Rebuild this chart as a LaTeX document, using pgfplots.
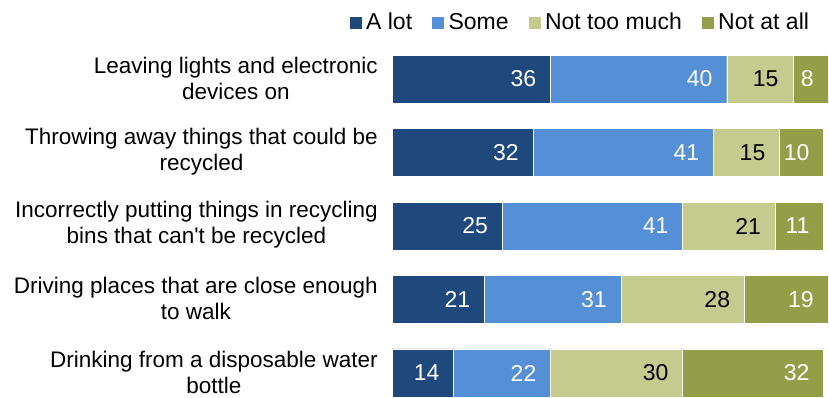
\documentclass[border=0pt]{standalone}
\usepackage{fontspec}
\setmainfont{Liberation Sans}
\usepackage{pgfplots}
\pgfplotsset{compat=1.18}
\definecolor{alot}{HTML}{1F487C}
\definecolor{some}{HTML}{558FD6}
\definecolor{nottoo}{HTML}{C5CA8E}
\definecolor{notatall}{HTML}{949D48}
\begin{document}
\fontsize{22.5pt}{26pt}\selectfont
\begin{tikzpicture}[x=1pt,y=1pt]
\begin{axis}[
  at={(392pt,0pt)}, anchor=south west,
  scale only axis, width=436pt, height=342pt,
  xbar stacked, bar width=48pt,
  xmin=0, xmax=99,
  ymin=-0.327, ymax=4.327, y dir=reverse,
  axis line style={draw=none},
  xtick=\empty,
  ytick={0,1,2,3,4},
  yticklabels={{Leaving lights and electronic\\devices on},
    {Throwing away things that could be\\recycled},
    {Incorrectly putting things in recycling\\bins that can\textquotesingle t be recycled},
    {Driving places that are close enough\\to walk},
    {Drinking from a disposable water\\bottle}},
  major tick length=0pt,
  /pgf/number format/assume math mode=true,
  yticklabel style={align=center, anchor=east, inner sep=0pt, xshift=-14pt, yshift=1pt, font=\fontsize{22.5pt}{26pt}\selectfont},
  visualization depends on=rawx \as \rawx,
  nodes near coords={\pgfmathprintnumber[assume math mode=true]{\pgfplotspointmeta}},
  every node near coord/.append style={anchor=east, xshift={\rawx*2.2pt-14pt}, font=\fontsize{23pt}{24pt}\selectfont, inner sep=0pt},
  legend columns=4,
  legend style={at={(0.9615,1.093)}, anchor=east, draw=none, fill=none, inner sep=0pt,
    font=\fontsize{23pt}{24pt}\selectfont,
    /tikz/every even column/.append style={column sep=17pt}},
  legend image code/.code={\fill[#1] (0pt,-6.5pt) rectangle (13pt,6.5pt); \path (15pt,0pt);},
]
\addplot[fill=alot, draw=white, line width=0.4pt, nodes near coords style={text=white}] coordinates {(36,0) (32,1) (25,2) (21,3) (14,4)};
\addplot[fill=some, draw=white, line width=0.4pt, nodes near coords style={text=white}] coordinates {(40,0) (41,1) (41,2) (31,3) (22,4)};
\addplot[fill=nottoo, draw=white, line width=0.4pt, nodes near coords style={text=black}] coordinates {(15,0) (15,1) (21,2) (28,3) (30,4)};
\addplot[fill=notatall, draw=white, line width=0.4pt, nodes near coords style={text=white}] coordinates {(8,0) (10,1) (11,2) (19,3) (32,4)};
\legend{A lot, Some, Not too much, Not at all}
\end{axis}
\pgfresetboundingbox
\useasboundingbox (0,0) rectangle (829pt,397pt);
\end{tikzpicture}
\end{document}
